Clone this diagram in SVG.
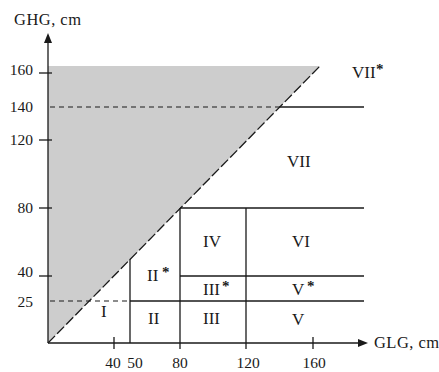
<svg xmlns="http://www.w3.org/2000/svg" width="439" height="372" viewBox="0 0 439 372">
<style>
.ln{stroke:#1a1a1a;stroke-width:1.3;fill:none}
.dh{stroke:#1a1a1a;stroke-width:1.2;fill:none;stroke-dasharray:5 4}
.dg{stroke:#1a1a1a;stroke-width:1.3;fill:none;stroke-dasharray:10 3}
text{font-family:"Liberation Serif","Times New Roman",serif;fill:#1a1a1a}
.tk{font-size:15.5px;text-anchor:end}
.tx{font-size:15.5px;text-anchor:middle}
.rg{font-size:17px}
.ax{font-size:16.5px}
.st{font-size:15px;font-weight:bold}
</style>
<rect width="439" height="372" fill="#ffffff"/>
<polygon id="shade" points="48,343 48,66 320,66" fill="#cdcdcd"/>
<g id="connectors">
<line class="ln" x1="48" y1="343" x2="48" y2="42"/>
<polygon points="48,33 44,43 52,43" fill="#1a1a1a"/>
<line class="ln" x1="48" y1="343" x2="360" y2="343"/>
<polygon points="368,343 358,339 358,347" fill="#1a1a1a"/>
<line class="dg" x1="48" y1="343" x2="320" y2="66"/>
<line class="ln" x1="39" y1="73" x2="52" y2="73"/>
<line class="ln" x1="39" y1="140" x2="52" y2="140"/>
<line class="ln" x1="39" y1="208" x2="52" y2="208"/>
<line class="ln" x1="39" y1="276" x2="52" y2="276"/>
<line class="ln" x1="114" y1="337" x2="114" y2="349"/>
<line class="ln" x1="313" y1="337" x2="313" y2="349"/>
<line class="dh" x1="50" y1="107" x2="279" y2="107"/>
<line class="ln" x1="279" y1="107" x2="364" y2="107"/>
<line class="dh" x1="50" y1="301" x2="130" y2="301"/>
<line class="ln" x1="130" y1="301" x2="364" y2="301"/>
<line class="ln" x1="180" y1="208" x2="364" y2="208"/>
<line class="ln" x1="180" y1="276" x2="364" y2="276"/>
<line class="ln" x1="130" y1="259" x2="130" y2="343"/>
<line class="ln" x1="180" y1="208" x2="180" y2="349"/>
<line class="ln" x1="246" y1="208" x2="246" y2="349"/>
</g>
<g id="axis-labels">
<text class="ax" x="14" y="25" textLength="67">GHG, cm</text>
<text class="ax" x="374" y="348" textLength="65">GLG, cm</text>
</g>
<g id="y-ticks">
<text class="tk" x="33" y="75">160</text>
<text class="tk" x="33" y="112">140</text>
<text class="tk" x="33" y="144.5">120</text>
<text class="tk" x="33" y="213">80</text>
<text class="tk" x="33" y="277">40</text>
<text class="tk" x="33" y="307">25</text>
</g>
<g id="x-ticks">
<text class="tx" x="113" y="368">40</text>
<text class="tx" x="135" y="368">50</text>
<text class="tx" x="180" y="368">80</text>
<text class="tx" x="248" y="368">120</text>
<text class="tx" x="314" y="368">160</text>
</g>
<g id="region-I"><text class="rg" x="101" y="317">I</text></g>
<g id="region-II"><text class="rg" x="148" y="324">II</text></g>
<g id="region-IIs"><text class="rg" x="147" y="281">II</text><text class="st" x="162" y="277">*</text></g>
<g id="region-III"><text class="rg" x="203" y="324">III</text></g>
<g id="region-IIIs"><text class="rg" x="203" y="295">III</text><text class="st" x="222" y="291">*</text></g>
<g id="region-IV"><text class="rg" x="203" y="247">IV</text></g>
<g id="region-V"><text class="rg" x="292" y="325">V</text></g>
<g id="region-Vs"><text class="rg" x="292" y="295">V</text><text class="st" x="307" y="291">*</text></g>
<g id="region-VI"><text class="rg" x="292" y="247">VI</text></g>
<g id="region-VII"><text class="rg" x="287" y="167">VII</text></g>
<g id="region-VIIs"><text class="rg" x="352" y="78">VII</text><text class="st" x="376" y="74">*</text></g>
</svg>
